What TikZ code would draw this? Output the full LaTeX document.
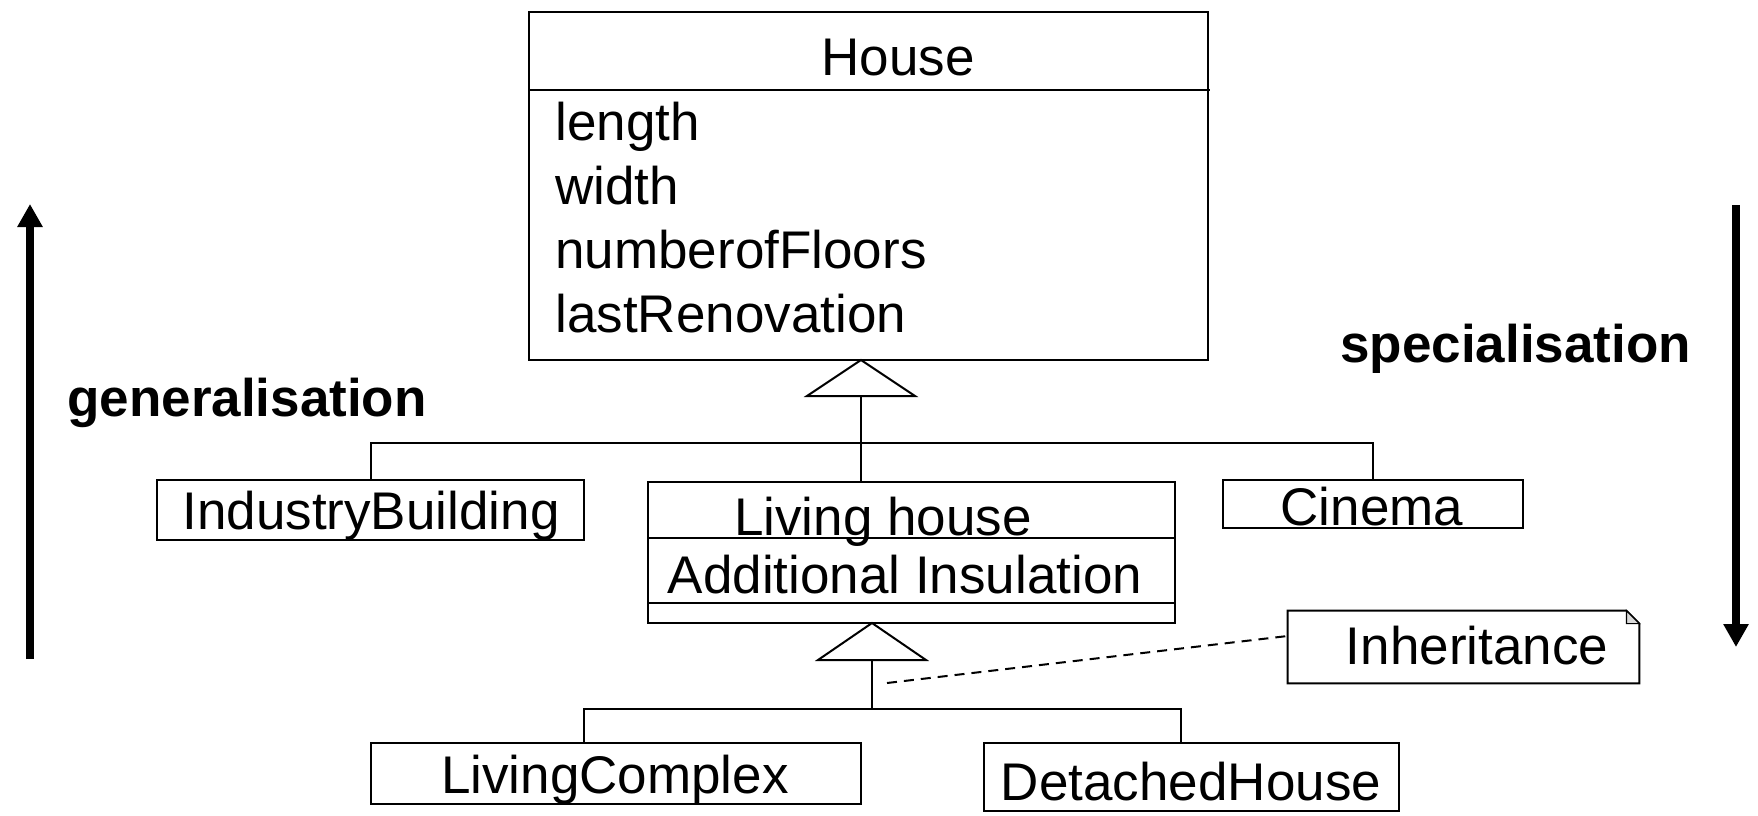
\documentclass[tikz,border=0pt]{standalone}
\usepackage{fontspec}
\setmainfont{Liberation Sans}
\usetikzlibrary{arrows.meta}
\begin{document}
\begin{tikzpicture}[x=0.5pt,y=-0.5pt,
  box/.style={draw, line width=1pt, rectangle, inner sep=0pt},
  lbl/.style={font=\fontsize{26.5}{31.8}\selectfont, inner sep=0pt, anchor=base},
  attr/.style={lbl, anchor=base west},
  boldlbl/.style={font=\fontsize{26.5}{31.8}\selectfont\bfseries, inner sep=0pt, anchor=base west},
  conn/.style={line width=1pt},
  gentri/.style={line width=1pt, fill=white},
  notelink/.style={line width=1pt, dash pattern=on 5pt off 3.5pt},
  bigarrow/.style={line width=4pt, -{Triangle[width=12pt,length=11.5pt]}},
]
\useasboundingbox (0,0) rectangle (1758,815);

% boxes
\node[box, minimum width=339.5pt, minimum height=174pt] (house) at (868.5,186) {};
\draw[conn] (house.north west) ++(0,79) -- ++(682,0);
\node[box, minimum width=213.5pt, minimum height=30pt] (ib) at (370.5,510) {};
\node[box, minimum width=263.5pt, minimum height=70.5pt] (living) at (911.5,552.5) {};
\draw[conn] (living.north west) ++(0,57) -- ++(527,0);
\draw[conn] (living.north west) ++(0,122) -- ++(527,0);
\node[box, minimum width=150pt, minimum height=24pt] (cin) at (1373,504) {};
\node[box, minimum width=245pt, minimum height=30.5pt] (lc) at (616,773.5) {};
\node[box, minimum width=207.5pt, minimum height=34pt] (dh) at (1191.5,777) {};

% note with folded corner
\node[minimum width=175.5pt, minimum height=36pt, inner sep=0pt] (note) at (1463.5,647) {};
\draw[conn] (note.north west) -- ([xshift=-6.5pt]note.north east) -- ([yshift=-6.5pt]note.north east) -- (note.south east) -- (note.south west) -- cycle;
\draw[line width=0.6pt, fill=black!15] ([xshift=-6.5pt]note.north east) -- ([xshift=-6.5pt,yshift=-6.5pt]note.north east) -- ([yshift=-6.5pt]note.north east) -- cycle;

% texts
\node[lbl] (tHouse) at (898,75) {House};
\node[attr] (a1) at (555,140) {length};
\node[attr] (a2) at (555,204) {width};
\node[attr] (a3) at (555,268) {numberofFloors};
\node[attr] (a4) at (555,332) {lastRenovation};
\node[lbl] (tIB) at (371,529) {IndustryBuilding};
\node[lbl] (tLH) at (883,535) {Living house};
\node[lbl] (tAI) at (905,593) {Additional Insulation};
\node[lbl] (tCin) at (1372,525) {Cinema};
\node[lbl] (tLC) at (615,793) {LivingComplex};
\node[lbl] (tDH) at (1191,800) {DetachedHouse};
\node[lbl] (tInh) at (1477,664) {Inheritance};
\node[boldlbl] (tGen) at (67,416) {generalisation};
\node[boldlbl] (tSpec) at (1340,362) {specialisation};

% generalisation House <- children
\coordinate (t1) at (861,360);
\coordinate (t1b) at (861,396);
\draw[conn] (t1b) -- (t1b |- living.north);
\draw[conn] (ib.north) -- ++(0,-36) -| (cin.north);
\draw[gentri] (t1) -- ++(-54,36) -- ++(108,0) -- cycle;

% generalisation Living house <- children
\coordinate (t2) at (872,623);
\coordinate (t2b) at (872,660);
\coordinate (j2) at (872,709);
\draw[conn] (t2b) -- (j2);
\draw[conn] (lc.north -| 584,0) -- (584,709) -- (1181,709) -- (dh.north -| 1181,0);
\draw[gentri] (t2) -- ++(-54,37) -- ++(108,0) -- cycle;

% note link
\coordinate (nl) at (887,683);
\draw[notelink] (nl) -- ([yshift=5.5pt]note.west);

% big arrows
\coordinate (gA) at (30,659);
\coordinate (gB) at (30,204);
\coordinate (sA) at (1736,205);
\coordinate (sB) at (1736,647);
\draw[bigarrow] (gA) -- (gB);
\draw[bigarrow] (sA) -- (sB);
\end{tikzpicture}
\end{document}
